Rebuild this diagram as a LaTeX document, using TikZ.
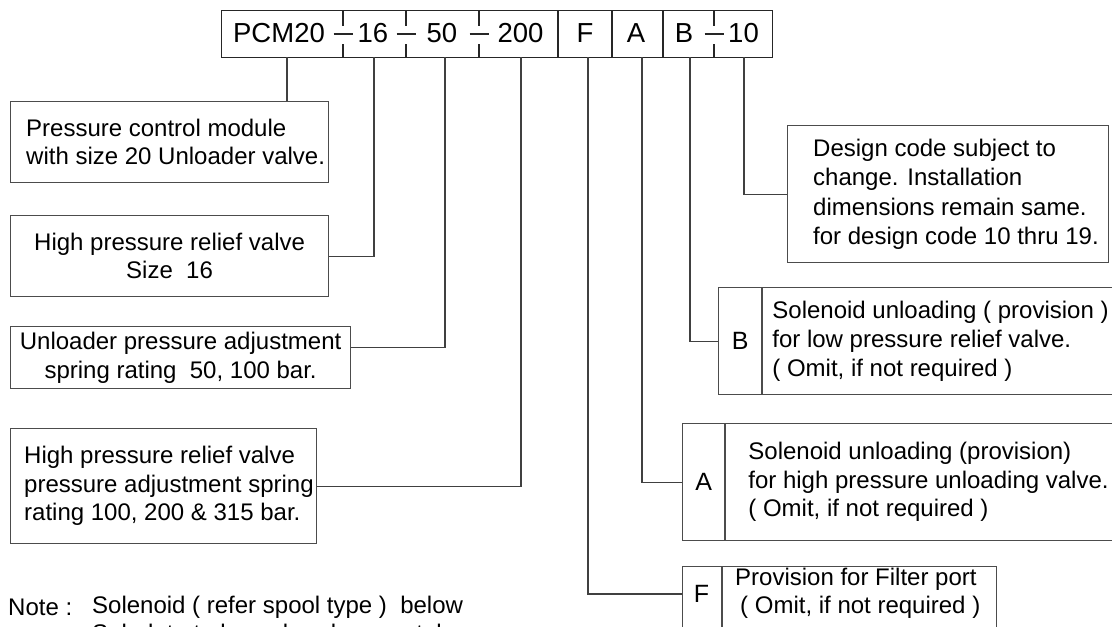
\documentclass[tikz,border=0pt]{standalone}
\usepackage{fontspec}
\setmainfont{Liberation Sans}
\usetikzlibrary{positioning}

\begin{document}
\begin{tikzpicture}[x=1pt, y=-1pt,
        codeline/.style={draw=black!85, line width=1.2pt},
        conn/.style={draw=black!75, line width=1.2pt},
        descbox/.style={draw=black!70, line width=1.2pt, anchor=north west, inner sep=0pt},
        codetxt/.style={inner sep=0pt, font=\fontsize{27.5}{30}\selectfont},
        desctxt/.style={inner sep=0pt, align=left, font=\fontsize{24}{28.5}\selectfont},
        lettertxt/.style={font=\fontsize{25}{28}\selectfont}]
        \useasboundingbox (0,0) rectangle (1112,627);
        \clip (0,0) rectangle (1112,627);

        \node[codeline, draw, anchor=north west, inner sep=0pt, minimum width=551pt, minimum height=47pt] (code) at (221,10) {};
        \node[codetxt] (pcm) at (279,33.5) {PCM20};
        \node[codetxt] (sz) at (373,33.5) {16};
        \node[codetxt] (usp) at (442,33.5) {50};
        \node[codetxt] (hsp) at (520.5,33.5) {200};
        \node[codetxt] (fp) at (585,33.5) {F};
        \node[codetxt] (sa) at (636,33.5) {A};
        \node[codetxt] (sb) at (684,33.5) {B};
        \node[codetxt] (dc) at (743.5,33.5) {10};
        \foreach \x in {558,612,663} {
            \draw[codeline] (\x,10) -- (\x,57);
        }
        \foreach \x in {343,406,479,714} {
            \draw[codeline] (\x,10) -- (\x,26) (\x,44) -- (\x,57) (\x-9.5,34) -- (\x+9.5,34);
        }
        \coordinate (tPCM) at (287,57);
        \coordinate (tSZ) at (374,57);
        \coordinate (tUSP) at (445,57);
        \coordinate (tHSP) at (521,57);
        \coordinate (tF) at (588,57);
        \coordinate (tA) at (642,57);
        \coordinate (tB) at (690,57);
        \coordinate (tDC) at (744,57);

        \node[descbox, minimum width=318pt, minimum height=81pt] (pcmbox) at (10,101) {};
        \node[desctxt, right=16pt of pcmbox.west] (pcmtxt) {Pressure control module\\with size 20 Unloader valve.};
        \node[descbox, minimum width=318pt, minimum height=81pt] (szbox) at (10,215) {};
        \node[desctxt, align=center] (sztxt) at (szbox.center) {High pressure relief valve\\Size~~16};
        \node[descbox, minimum width=340pt, minimum height=62pt] (uspbox) at (10,326) {};
        \node[desctxt, align=center] (usptxt) at (uspbox.center) {Unloader pressure adjustment\\spring rating~~50, 100 bar.};
        \node[descbox, minimum width=306pt, minimum height=115pt] (hspbox) at (10,428) {};
        \node[desctxt, right=14pt of hspbox.west] (hsptxt) {High pressure relief valve\\pressure adjustment spring\\rating 100, 200 \& 315 bar.};

        \node[descbox, minimum width=321pt, minimum height=137pt] (dcbox) at (787,125) {};
        \node[desctxt, font=\fontsize{24}{29.5}\selectfont, right=26pt of dcbox.west] (dctxt) {Design code subject to\\change. Installation\\dimensions remain same.\\for design code 10 thru 19.};

        \node[descbox, lettertxt, minimum width=43pt, minimum height=107pt] (bcell) at (718,287) {};
        \node[lettertxt] (bletter) at (bcell.center) {B};
        \node[descbox, minimum width=350pt, minimum height=107pt] (bbox) at (bcell.north east) {};
        \node[desctxt, font=\fontsize{24}{29}\selectfont, right=10pt of bbox.west] (btxt) {Solenoid unloading ( provision )\\for low pressure relief valve.\\( Omit, if not required )};

        \node[descbox, minimum width=42pt, minimum height=117pt] (acell) at (682,423) {};
        \node[lettertxt] (aletter) at (acell.center) {A};
        \node[descbox, minimum width=390pt, minimum height=117pt] (abox) at (acell.north east) {};
        \node[desctxt, right=23pt of abox.west] (atxt) {Solenoid unloading (provision)\\for high pressure unloading valve.\\( Omit, if not required )};

        \node[descbox, minimum width=39pt, minimum height=80pt] (fcell) at (682,566) {};
        \node[lettertxt] (fletter) at (701.5,594) {F};
        \node[descbox, minimum width=274pt, minimum height=80pt] (fbox) at (fcell.north east) {};
        \node[desctxt, anchor=west] (ftxt) at (735,593.5) {Provision for Filter port\\\hspace*{5pt}( Omit, if not required )};

        \draw[conn] (tPCM) -- (tPCM |- pcmbox.north);
        \draw[conn] (tSZ) |- (szbox.east);
        \draw[conn] (tUSP) |- ([yshift=10pt]uspbox.east);
        \draw[conn] (tHSP) |- (hspbox.east);
        \draw[conn] (tF) |- (fletter -| fcell.west);
        \draw[conn] (tA) |- (acell.west);
        \draw[conn] (tB) |- (bcell.west);
        \draw[conn] (tDC) |- (dcbox.west);

        \node[desctxt, anchor=west] (notelbl) at (8,607) {Note :};
        \node[desctxt, anchor=west] (notetxt) at (92,607) {Solenoid ( refer spool type )~~below};
        \node[desctxt, anchor=west] (notetxt2) at (92,635) {Subplate to be ordered separately.};
\end{tikzpicture}
\end{document}
